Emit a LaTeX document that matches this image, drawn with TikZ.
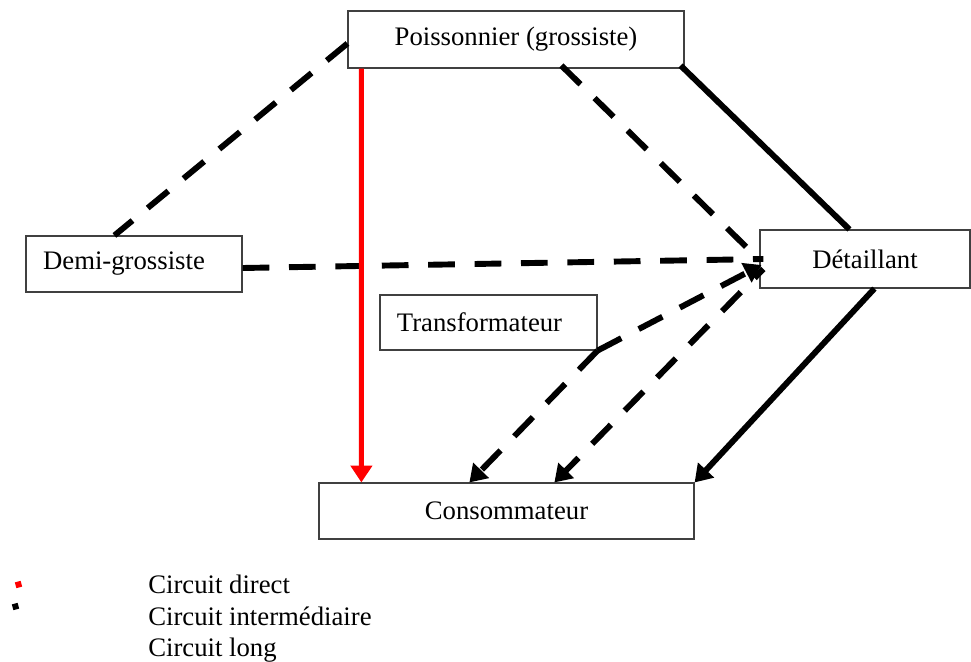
\documentclass[tikz,border=0pt]{standalone}
\usepackage{fontspec}
\setmainfont{Liberation Serif}
\usetikzlibrary{arrows.meta,calc}
\tikzset{
  box/.style={draw=black!75,line width=0.8pt,fill=white,inner sep=0pt},
  dashline/.style={line width=4.2pt,dash pattern=on 19pt off 14pt},
  fullline/.style={line width=4.2pt},
  redline/.style={line width=3.6pt,red},
  tip/.style={-{Triangle[width=15pt,length=12pt]}},
  legend/.style={anchor=west,inner sep=0pt}
}
\begin{document}
\begin{tikzpicture}[x=0.025cm,y=-0.025cm,font=\fontsize{19}{22}\selectfont]
\useasboundingbox (0,0) rectangle (971,662);
\node[box,minimum width=8.4cm,minimum height=1.425cm] (poiss) at (516,39.5) {Poissonnier (grossiste)};
\node[box,minimum width=5.4cm,minimum height=1.4cm] (demi) at (134,264) {Demi-grossiste\kern0.5cm};
\node[box,minimum width=5.25cm,minimum height=1.45cm] (detail) at (865,259) {D\'etaillant};
\node[box,minimum width=5.425cm,minimum height=1.375cm] (transf) at (488.5,322.5) {Transformateur\kern0.45cm};
\node[box,minimum width=9.375cm,minimum height=1.4cm] (conso) at (506.5,511) {Consommateur};

\draw[dashline] ($(poiss.west)+(0,4)$) -- ($(demi.north west)+(89,0)$);
\draw[dashline] ($(poiss.south west)+(214,-3)$) -- ($(detail.west)+(-6,-5)$);
\draw[fullline] ($(poiss.south east)+(-4,-3)$) -- ($(detail.north west)+(90,0)$);
\draw[dashline] ($(demi.east)+(0,4)$) -- ($(detail.west)+(4,0)$);
\draw[dashline,tip] (transf.south east) -- ($(detail.west)+(2,6)$);
\draw[dashline,tip] (transf.south east) -- ($(conso.north west)+(151,0)$);
\draw[dashline,tip,dash phase=10pt] ($(detail.west)+(4,10)$) -- ($(conso.north west)+(236,0)$);
\draw[fullline,tip] ($(detail.south west)+(115,0)$) -- (conso.north east);
\draw[redline,tip] ($(poiss.south west)+(14,0)$) -- ($(conso.north west)+(43,0)$);

\fill[red,rotate around={15:(18.5,584.5)}] (15.5,581.5) rectangle (21.5,587.5);
\fill[black,rotate around={15:(15.5,606.5)}] (12.5,603.5) rectangle (18.5,609.5);
\node[legend] (direct) at (148,584) {Circuit direct};
\node[legend] (inter) at (148,616) {Circuit interm\'ediaire};
\node[legend] (long) at (148,650) {Circuit long};
\end{tikzpicture}
\end{document}
